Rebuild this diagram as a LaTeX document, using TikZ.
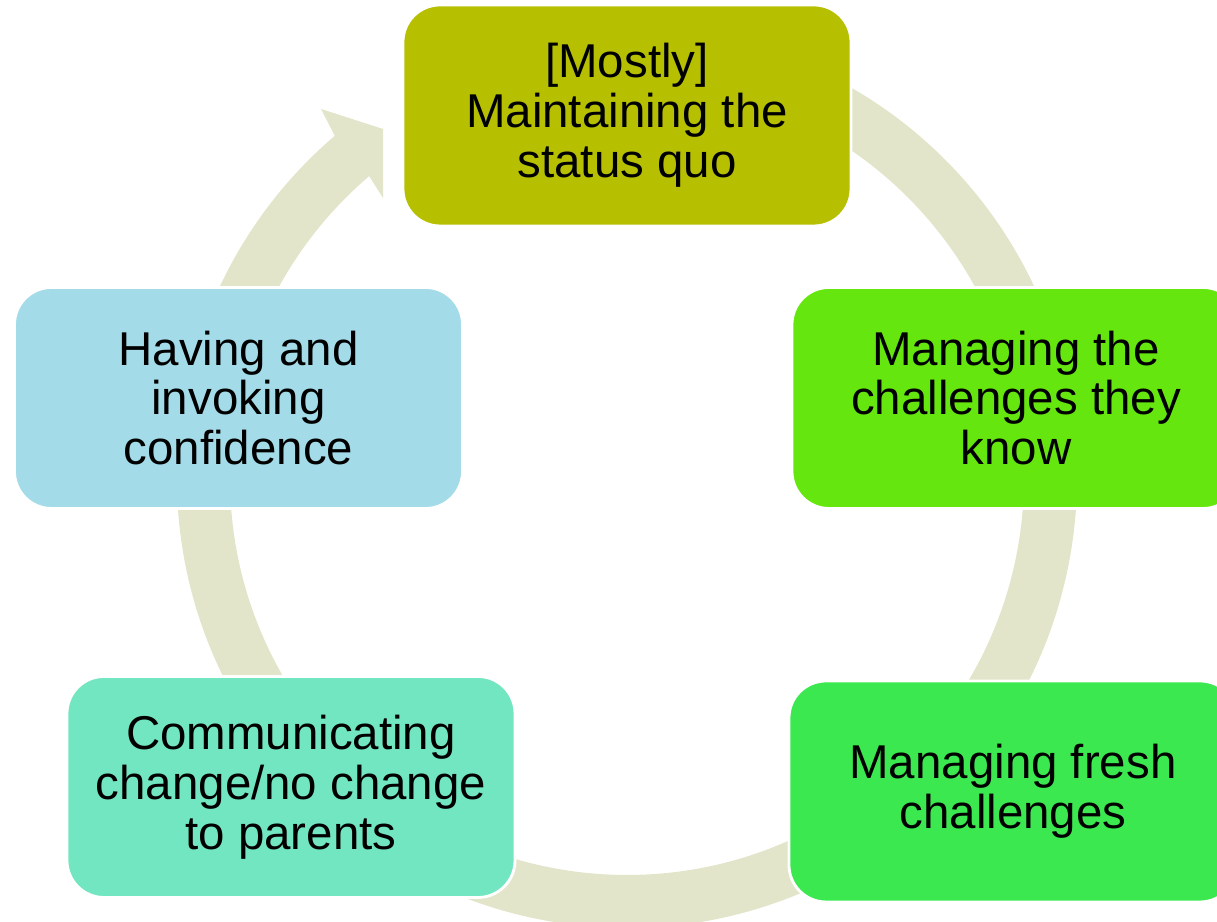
\documentclass[tikz,border=0pt]{standalone}
\usepackage{fontspec}
\setmainfont{Liberation Sans}
\usepackage{tikz}
\usetikzlibrary{
	calc,
	positioning
}

\definecolor{ringgray}{HTML}{E3E5CA}
\definecolor{olivestage}{HTML}{B6BF00}
\definecolor{limestage}{HTML}{66E60F}
\definecolor{greenstage}{HTML}{3CE850}
\definecolor{tealstage}{HTML}{72E6C0}
\definecolor{bluestage}{HTML}{A3DBE8}

\begin{document}
\begin{tikzpicture}[
				ring/.style={fill=ringgray},
				stage/.style={rectangle, rounded corners=0.37cm, draw=white, line width=0.8pt,
					minimum width=4.48cm, minimum height=2.21cm, align=center,
					font=\fontsize{13.5}{14.2}\selectfont, text=black}
			]
				% 画布
				\clip (0,0) rectangle (12.17,9.22);
				% 圆环箭头
				\coordinate (hub) at (6.27,4.44);
				\fill[ring] ($(hub)+(80:4.5)$) arc[start angle=80, end angle=-229.5, radius=4.5]
					-- (3.21,8.13) -- (3.83,7.93) -- (3.83,7.24)
					-- ($(hub)+(130.5:3.97)$) arc[start angle=130.5, end angle=440, radius=3.97] -- cycle;
				% 各阶段
				\node[stage, fill=olivestage] (statusquo)  at (6.27,8.065) {[Mostly]\\ Maintaining the\\ status quo};
				\node[stage, fill=limestage]  (known)      at (10.16,5.24) {Managing the\\ challenges they\\ know};
				\node[stage, fill=greenstage] (fresh)      at (10.13,1.305) {Managing fresh\\ challenges};
				\node[stage, fill=tealstage]  (parents)    at (2.91,1.35)  {Communicating\\ change/no change\\ to parents};
				\node[stage, fill=bluestage]  (confidence) at (2.385,5.24) {Having and\\ invoking\\ confidence};
			\end{tikzpicture}
\end{document}
